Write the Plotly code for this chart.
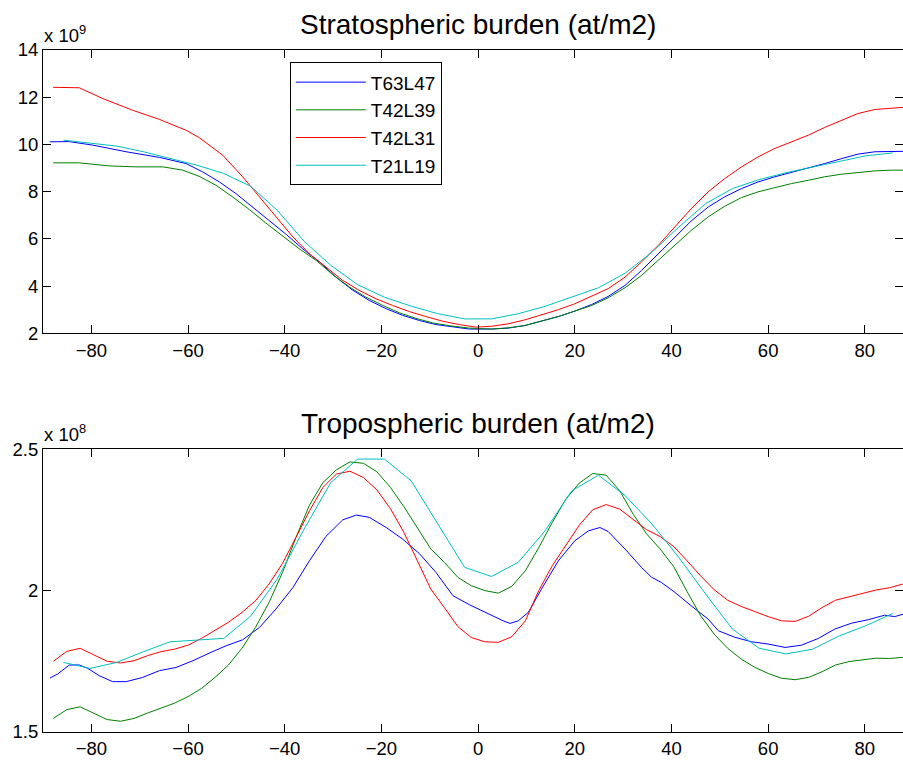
import plotly.graph_objects as go

# ---------------- data ----------------
series_names = ["T63L47", "T42L39", "T42L31", "T21L19"]
series_colors = ["#0000ff", "#008000", "#ff0000", "#00bfbf"]

# Gaussian latitudes (T21 / T42 grids)
lat_t21 = [-85.76, -80.27, -74.74, -69.21, -63.68, -58.14, -52.61, -47.07, -41.53, -36.00, -30.46,
           -24.92, -19.38, -13.84, -8.31, -2.77, 2.77, 8.31, 13.84, 19.38, 24.92, 30.46, 36.00,
           41.53, 47.07, 52.61, 58.14, 63.68, 69.21, 74.74, 80.27, 85.76]
lat_t42 = [-87.86, -85.10, -82.31, -79.53, -76.74, -73.95, -71.16, -68.37, -65.58, -62.79, -60.00,
           -57.21, -54.42, -51.63, -48.84, -46.04, -43.25, -40.46, -37.67, -34.88, -32.09, -29.30,
           -26.51, -23.72, -20.93, -18.14, -15.35, -12.56, -9.77, -6.98, -4.19, -1.40,
           1.40, 4.19, 6.98, 9.77, 12.56, 15.35, 18.14, 20.93, 23.72, 26.51, 29.30, 32.09,
           34.88, 37.67, 40.46, 43.25, 46.04, 48.84, 51.63, 54.42, 57.21, 60.00, 62.79, 65.58,
           68.37, 71.16, 73.95, 76.74, 79.53, 82.31, 85.10, 87.86]

# ---- Stratospheric burden (x 1e9 at/m2) ----
strat_lat_t63 = [-88.6, -84.6, -79.7, -72.8, -65.9, -60.4, -57.0, -53.5, -50.1, -46.6, -43.2, -39.7,
                 -36.3, -32.8, -29.4, -25.9, -22.5, -19.0, -15.6, -12.1, -8.7, -5.2, -1.8, 2.8, 6.2,
                 9.7, 13.1, 16.6, 20.0, 23.5, 26.9, 30.4, 33.8, 37.3, 40.7, 44.1, 47.6, 51.0, 54.5,
                 57.9, 61.4, 64.8, 68.3, 71.7, 75.2, 78.6, 82.1, 85.5, 88.6]
strat_t63l47 = [10.11, 10.12, 9.97, 9.69, 9.45, 9.19, 8.84, 8.41, 7.92, 7.35, 6.79, 6.19, 5.58, 5.02,
                4.38, 3.82, 3.39, 3.04, 2.76, 2.54, 2.37, 2.26, 2.18, 2.18, 2.22, 2.33, 2.51, 2.71,
                2.94, 3.22, 3.56, 4.03, 4.66, 5.37, 6.08, 6.76, 7.35, 7.78, 8.13, 8.41, 8.63, 8.81,
                8.98, 9.19, 9.40, 9.59, 9.69, 9.71, 9.71]

strat_lat_l39 = [-87.9, -82.5, -76.3, -70.8, -65.2, -61.1, -57.7, -54.2, -50.8, -47.3, -43.9, -40.4,
                 -37.0, -33.5, -30.1, -26.6, -23.2, -19.7, -16.3, -12.8, -9.4, -5.9, -1.8, 2.8, 6.2,
                 9.7, 13.1, 16.6, 20.0, 23.5, 26.9, 30.4, 33.8, 37.3, 40.7, 44.1, 47.6, 51.0, 54.5,
                 57.9, 61.4, 64.8, 68.3, 71.7, 75.2, 78.6, 82.1, 85.5, 87.9]
strat_t42l39 = [9.22, 9.22, 9.09, 9.05, 9.05, 8.91, 8.65, 8.27, 7.78, 7.24, 6.67, 6.11, 5.58, 5.09,
                4.49, 3.96, 3.53, 3.18, 2.87, 2.63, 2.44, 2.32, 2.22, 2.18, 2.23, 2.33, 2.51, 2.71,
                2.94, 3.18, 3.50, 3.93, 4.45, 5.09, 5.73, 6.36, 6.93, 7.38, 7.75, 7.99, 8.17, 8.34,
                8.48, 8.63, 8.74, 8.82, 8.88, 8.91, 8.91]

strat_lat_l31 = [-87.9, -82.5, -77.7, -71.5, -65.9, -60.4, -57.7, -52.8, -48.7, -45.2, -41.8, -38.3,
                 -34.9, -31.5, -28.0, -24.6, -21.1, -17.7, -14.2, -10.8, -7.3, -3.9, -0.4, 2.8, 6.2,
                 9.7, 13.1, 16.6, 20.0, 23.5, 26.9, 30.4, 33.8, 37.3, 40.7, 44.1, 47.6, 51.0, 54.5,
                 57.9, 61.4, 64.8, 68.3, 71.7, 75.2, 78.6, 82.1, 85.5, 87.9]
strat_t42l31 = [12.42, 12.40, 11.95, 11.45, 11.06, 10.60, 10.29, 9.54, 8.63, 7.78, 6.93, 6.08, 5.37,
                4.81, 4.24, 3.82, 3.46, 3.18, 2.92, 2.71, 2.51, 2.37, 2.26, 2.30, 2.40, 2.57, 2.78,
                3.00, 3.25, 3.56, 3.89, 4.38, 5.02, 5.73, 6.50, 7.28, 7.99, 8.55, 9.05, 9.47, 9.83,
                10.11, 10.39, 10.72, 11.03, 11.31, 11.48, 11.55, 11.57]

strat_t21l19 = [10.18, 10.07, 9.93, 9.69, 9.40, 9.12, 8.77, 8.23, 7.21, 5.90, 4.88, 4.06, 3.53, 3.15,
                2.83, 2.61, 2.61, 2.83, 3.14, 3.53, 3.93, 4.55, 5.44, 6.50, 7.49, 8.13, 8.51, 8.80,
                9.05, 9.30, 9.52, 9.64]

# ---- Tropospheric burden (x 1e8 at/m2) ----
trop_lat_t63 = [-88.55, -86.97, -84.55, -82.5, -80.76, -78.35, -75.6, -72.8, -69.4, -65.9, -62.5,
                -59.0, -55.6, -52.1, -48.7, -45.2, -41.8, -38.3, -34.9, -31.5, -28.0, -25.2, -22.5,
                -19.0, -15.6, -12.1, -8.7, -5.2, -1.8, 2.8, 5.2, 6.6, 8.3, 10.4, 13.1, 16.6, 20.0,
                22.8, 25.2, 26.9, 30.4, 33.8, 35.9, 37.9, 40.7, 44.1, 47.6, 49.7, 53.1, 56.6, 60.0,
                63.5, 66.9, 70.4, 73.8, 77.3, 80.7, 84.1, 86.2, 88.6]
trop_t63l47 = [1.691, 1.705, 1.737, 1.737, 1.725, 1.699, 1.678, 1.678, 1.693, 1.717, 1.728, 1.752,
               1.779, 1.805, 1.826, 1.870, 1.935, 2.011, 2.105, 2.191, 2.250, 2.267, 2.259, 2.223,
               2.182, 2.130, 2.064, 1.982, 1.950, 1.911, 1.893, 1.884, 1.893, 1.923, 2.005, 2.105,
               2.176, 2.211, 2.223, 2.209, 2.147, 2.082, 2.047, 2.029, 1.994, 1.946, 1.899, 1.858,
               1.835, 1.819, 1.811, 1.799, 1.807, 1.831, 1.864, 1.885, 1.897, 1.913, 1.908, 1.920]

trop_t42l39 = [1.548, 1.579, 1.589, 1.567, 1.544, 1.538, 1.548, 1.567, 1.584, 1.602, 1.625, 1.654,
               1.693, 1.737, 1.796, 1.870, 1.958, 2.064, 2.188, 2.302, 2.382, 2.427, 2.455, 2.450,
               2.420, 2.365, 2.297, 2.223, 2.147, 2.100, 2.047, 2.017,
               2.000, 1.991, 2.015, 2.070, 2.152, 2.241, 2.323, 2.380, 2.414, 2.408, 2.353, 2.270,
               2.200, 2.147, 2.085, 1.996, 1.911, 1.846, 1.796, 1.758, 1.729, 1.707, 1.690, 1.685,
               1.693, 1.713, 1.737, 1.749, 1.756, 1.761, 1.760, 1.764]

trop_t42l31 = [1.750, 1.785, 1.796, 1.772, 1.750, 1.744, 1.752, 1.770, 1.784, 1.793, 1.807, 1.831,
               1.860, 1.888, 1.923, 1.964, 2.023, 2.096, 2.188, 2.282, 2.365, 2.412, 2.422, 2.400,
               2.356, 2.290, 2.206, 2.105, 2.005, 1.940, 1.873, 1.834,
               1.819, 1.817, 1.837, 1.893, 2.000, 2.088, 2.158, 2.231, 2.286, 2.304, 2.288, 2.253,
               2.215, 2.191, 2.156, 2.105, 2.052, 2.003, 1.966, 1.944, 1.925, 1.908, 1.893, 1.891,
               1.909, 1.940, 1.966, 1.978, 1.990, 2.002, 2.010, 2.023]

trop_t21l19 = [1.746, 1.725, 1.746, 1.784, 1.819, 1.825, 1.831, 1.909, 2.041, 2.217, 2.382, 2.465,
               2.465, 2.388, 2.235, 2.082, 2.050, 2.100, 2.211, 2.353, 2.408, 2.335, 2.235, 2.117,
               1.988, 1.864, 1.796, 1.776, 1.793, 1.840, 1.876, 1.919]

x_ticks = [-80, -60, -40, -20, 0, 20, 40, 60, 80]
strat_yticks = [2, 4, 6, 8, 10, 12, 14]
trop_yticks = [1.5, 2, 2.5]
titles = ["Stratospheric burden (at/m2)", "Tropospheric burden (at/m2)"]
exponents = ["x 10<sup>9</sup>", "x 10<sup>8</sup>"]

# ---------------- figure ----------------
FONT = "Liberation Sans, Arial, Helvetica, sans-serif"
fig = go.Figure()

strat = [(strat_lat_t63, strat_t63l47), (strat_lat_l39, strat_t42l39),
         (strat_lat_l31, strat_t42l31), (lat_t21, strat_t21l19)]
trop = [(trop_lat_t63, trop_t63l47), (lat_t42, trop_t42l39),
        (lat_t42, trop_t42l31), (lat_t21, trop_t21l19)]

for (xs, ys), name, col in zip(strat, series_names, series_colors):
    fig.add_trace(go.Scatter(x=xs, y=ys, mode="lines", name=name,
                             line=dict(color=col, width=1), xaxis="x", yaxis="y"))
for (xs, ys), name, col in zip(trop, series_names, series_colors):
    fig.add_trace(go.Scatter(x=xs, y=ys, mode="lines", name=name, showlegend=False,
                             line=dict(color=col, width=1), xaxis="x2", yaxis="y2"))

axis_common = dict(showgrid=False, zeroline=False, showline=True, linecolor="black",
                   linewidth=1, mirror="ticks", ticks="inside", ticklen=8, tickcolor="black",
                   tickwidth=1, tickfont=dict(family=FONT, size=18.5, color="black"))

top_dom = [0.5846, 1.0]
bot_dom = [0.0, 0.4147]
xr = [-90, 87.9]

fig.update_layout(
    width=903, height=760,
    margin=dict(l=43, r=0, t=50, b=28),
    paper_bgcolor="white", plot_bgcolor="white",
    xaxis=dict(domain=[0, 1], range=xr, tickvals=x_ticks, anchor="y", **axis_common),
    yaxis=dict(domain=top_dom, range=[2, 14], tickvals=strat_yticks, anchor="x", **axis_common),
    xaxis2=dict(domain=[0, 1], range=xr, tickvals=x_ticks, anchor="y2", **axis_common),
    yaxis2=dict(domain=bot_dom, range=[1.5, 2.5], tickvals=trop_yticks,
                ticktext=["1.5", "2", "2.5"], anchor="x2", **axis_common),
    legend=dict(x=0.287, y=0.982, xanchor="left", yanchor="top",
                bordercolor="black", borderwidth=1, bgcolor="white",
                font=dict(family=FONT, size=19, color="black"),
                itemwidth=70, tracegroupgap=0),
    showlegend=True,
)

for dom, title, expo, xref in [(top_dom, titles[0], exponents[0], "x"),
                               (bot_dom, titles[1], exponents[1], "x2")]:
    fig.add_annotation(text=title, xref=xref, x=0, yref="paper", y=dom[1],
                       xanchor="center", yanchor="bottom", yshift=8, showarrow=False,
                       font=dict(family=FONT, size=28, color="black"))
    fig.add_annotation(text=expo, xref="paper", x=0, yref="paper", y=dom[1],
                       xanchor="left", yanchor="bottom", yshift=2, xshift=-1, showarrow=False,
                       font=dict(family=FONT, size=18.5, color="black"))

fig.write_html("out.html")
